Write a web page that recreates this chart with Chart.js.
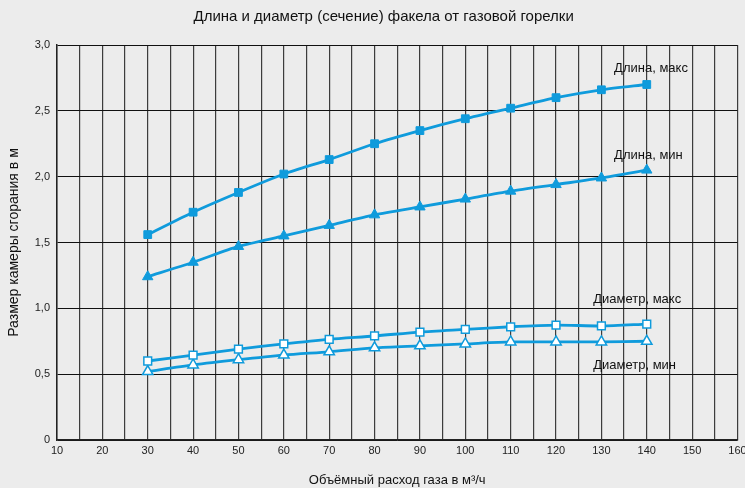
<!DOCTYPE html>
<html>
<head>
<meta charset="utf-8">
<script src="https://cdn.jsdelivr.net/npm/chart.js@4/dist/chart.umd.min.js"></script>
<style>
  html, body { margin: 0; padding: 0; background: #ececec; }
  #wrap { width: 745px; height: 488px; position: relative; }
</style>
</head>
<body>
<div id="wrap"><canvas id="flameChart"></canvas></div>
<script>
const gasFlow = [30, 40, 50, 60, 70, 80, 90, 100, 110, 120, 130, 140];
const lengthMax = [1.56, 1.73, 1.88, 2.02, 2.13, 2.25, 2.35, 2.44, 2.52, 2.60, 2.66, 2.70];
const lengthMin = [1.24, 1.35, 1.47, 1.55, 1.63, 1.71, 1.77, 1.83, 1.89, 1.94, 1.99, 2.05];
const diamMax = [0.60, 0.645, 0.69, 0.73, 0.765, 0.79, 0.82, 0.84, 0.86, 0.873, 0.866, 0.88];
const diamMin = [0.52, 0.57, 0.61, 0.645, 0.67, 0.70, 0.715, 0.73, 0.745, 0.745, 0.745, 0.75];
const seriesNames = ['Длина, макс', 'Длина, мин', 'Диаметр, макс', 'Диаметр, мин'];
const chartTitle = 'Длина и диаметр (сечение) факела от газовой горелки';

const blue = '#0f9bdc';
const fontFamily = '"Liberation Sans", Arial, Helvetica, sans-serif';

// where the curve names sit (data coords)
const labelSpots = [
  { x: 132.8, y: 2.825 },
  { x: 132.8, y: 2.164 },
  { x: 128.2, y: 1.071 },
  { x: 128.2, y: 0.57 }
];

const curveLabels = {
  id: 'curveLabels',
  afterDatasetsDraw(chart) {
    const ctx = chart.ctx;
    const xs = chart.scales.x, ys = chart.scales.y;
    ctx.save();
    ctx.fillStyle = '#111';
    ctx.textBaseline = 'middle';
    ctx.font = '13px ' + fontFamily;
    ctx.textAlign = 'left';
    seriesNames.forEach((name, i) => {
      ctx.fillText(name, xs.getPixelForValue(labelSpots[i].x), ys.getPixelForValue(labelSpots[i].y));
    });
    // chart title, roughly over the plot middle
    ctx.font = '15px ' + fontFamily;
    ctx.textAlign = 'center';
    ctx.fillText(chartTitle, xs.getPixelForValue(82), 17);
    ctx.restore();
  }
};

function toPoints(vals) {
  return vals.map((v, i) => ({ x: gasFlow[i], y: v }));
}

function makeSet(label, vals, style, open) {
  return {
    label: label,
    data: toPoints(vals),
    borderColor: blue,
    borderWidth: 2.8,
    backgroundColor: open ? '#ffffff' : blue,
    pointStyle: style,
    pointRadius: style === 'rect' ? 5.5 : 6,
    pointBorderWidth: open ? 1.5 : 1,
    pointBorderColor: blue,
    pointBackgroundColor: open ? '#ffffff' : blue,
    tension: 0.25,
    fill: false
  };
}

new Chart(document.getElementById('flameChart').getContext('2d'), {
  type: 'line',
  data: {
    datasets: [
      makeSet(seriesNames[0], lengthMax, 'rect', false),
      makeSet(seriesNames[1], lengthMin, 'triangle', false),
      makeSet(seriesNames[2], diamMax, 'rect', true),
      makeSet(seriesNames[3], diamMin, 'triangle', true)
    ]
  },
  options: {
    responsive: true,
    maintainAspectRatio: false,
    animation: false,
    layout: { padding: { left: 0, right: 2, top: 45, bottom: 0 } },
    plugins: {
      legend: { display: false },
      tooltip: { enabled: false },
      title: { display: false }
    },
    scales: {
      x: {
        type: 'linear',
        min: 10,
        max: 160,
        afterFit: s => { s.height = 48; s.paddingRight = 0; s.paddingLeft = 0; },
        ticks: {
          stepSize: 5,
          autoSkip: false,
          maxRotation: 0,
          color: '#222',
          padding: 4,
          font: { family: fontFamily, size: 11 },
          callback: v => (v % 10 === 0 ? String(v) : '')
        },
        grid: { color: '#3c3c3c', lineWidth: 1.2, drawTicks: false },
        border: { color: '#222', width: 1.5 },
        title: {
          display: true,
          text: 'Объёмный расход газа в м³/ч',
          color: '#111',
          font: { family: fontFamily, size: 13 },
          padding: { top: 10, bottom: 0 }
        }
      },
      y: {
        min: 0,
        max: 3,
        afterFit: s => { s.width = 57; s.paddingTop = 0; s.paddingBottom = 0; },
        ticks: {
          stepSize: 0.5,
          color: '#222',
          padding: 7,
          font: { family: fontFamily, size: 11 },
          callback: v => (v === 0 ? '0' : v.toFixed(1).replace('.', ','))
        },
        grid: { color: '#111', lineWidth: 1, drawTicks: false },
        border: { color: '#222', width: 1.5 },
        title: {
          display: true,
          text: 'Размер камеры сгорания в м',
          color: '#111',
          font: { family: fontFamily, size: 14 },
          padding: { top: 6, bottom: 4 }
        }
      }
    }
  },
  plugins: [curveLabels]
});
</script>
</body>
</html>
